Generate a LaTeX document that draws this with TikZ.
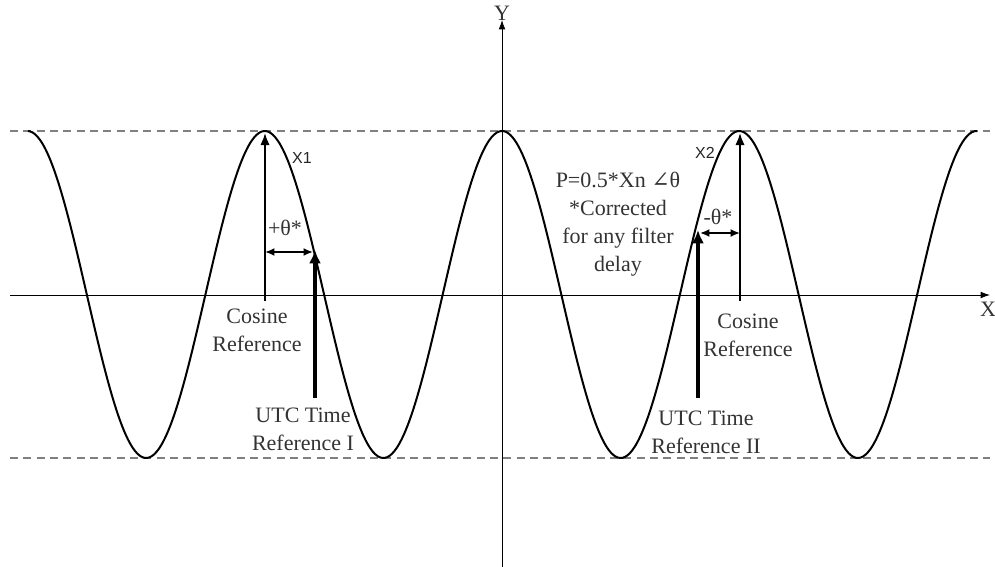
\documentclass[tikz,border=0pt]{standalone}
\usepackage{fontspec}
\setmainfont{Liberation Serif}
\setsansfont{Liberation Sans}
\newfontfamily\symfont{DejaVu Serif}
\usetikzlibrary{arrows.meta}
\begin{document}
\begin{tikzpicture}[x=0.75pt,y=-0.75pt,
  lbl/.style={font=\fontsize{16.5}{21}\selectfont, align=center, text=black!80, inner sep=0pt},
  xlbl/.style={font=\sffamily\fontsize{12}{14}\selectfont, inner sep=0pt, text=black!85},
  refline/.style={line width=1.3pt, -{Latex[length=9pt,width=7pt]}},
  utcline/.style={line width=2.4pt, -{Latex[length=10pt,width=9pt]}},
  dbl/.style={line width=1.3pt, {Latex[length=7pt,width=6pt]}-{Latex[length=7pt,width=6pt]}},
  axis/.style={line width=0.6pt, -{Latex[length=7pt,width=5pt]}},
  guide/.style={gray, line width=0.8pt, dash pattern=on 6pt off 4pt}]
\useasboundingbox (0,0) rectangle (995,567);
% guide lines
\coordinate (tl) at (10,131); \coordinate (tr) at (990,131);
\coordinate (bl) at (10,458); \coordinate (br) at (990,458);
\draw[guide] (tl) -- (tr);
\draw[guide] (bl) -- (br);
% axes
\coordinate (xl) at (10,295); \coordinate (xr) at (990,295);
\coordinate (yb) at (502,567); \coordinate (yt) at (502,20);
\draw[axis] (xl) -- (xr);
\draw[axis] (yb) -- (yt);
\node[lbl] (ylab) at (502,13) {Y};
\node[lbl] (xlab) at (988,309) {X};
% wave
\draw[line width=1.5pt] plot[domain=28:977, samples=400, smooth] (\x, {294.5-163.5*cos((\x-502)/237.25*360)});
% left reference
\coordinate (c1b) at (265,301); \coordinate (c1t) at (265,133);
\draw[refline] (c1b) -- (c1t);
\coordinate (u1b) at (315,398); \coordinate (u1t) at (315,250);
\draw[utcline] (u1b) -- (u1t);
\coordinate (d1l) at (265,252); \coordinate (d1r) at (313,252);
\draw[dbl] (d1l) -- (d1r);
\node[lbl] (th1) at (285,228) {+θ*};
\node[xlbl] (x1) at (302,158) {X1};
\node[lbl] (cos1) at (257,330) {Cosine\\Reference};
\node[lbl] (utc1) at (303,429) {UTC Time\\Reference I};
% right reference
\coordinate (c2b) at (740,301); \coordinate (c2t) at (740,133);
\draw[refline] (c2b) -- (c2t);
\coordinate (u2b) at (698,398); \coordinate (u2t) at (698,230);
\draw[utcline] (u2b) -- (u2t);
\coordinate (d2l) at (700,233); \coordinate (d2r) at (740,233);
\draw[dbl] (d2l) -- (d2r);
\node[lbl] (th2) at (718,217) {-θ*};
\node[xlbl] (x2) at (705,153) {X2};
\node[lbl] (cos2) at (748,335) {Cosine\\Reference};
\node[lbl] (utc2) at (706,432) {UTC Time\\Reference II};
% note
\node[lbl] (note) at (618,224) {P=0.5*Xn {\symfont ∠}θ\\*Corrected\\for any filter\\delay};
\end{tikzpicture}
\end{document}
